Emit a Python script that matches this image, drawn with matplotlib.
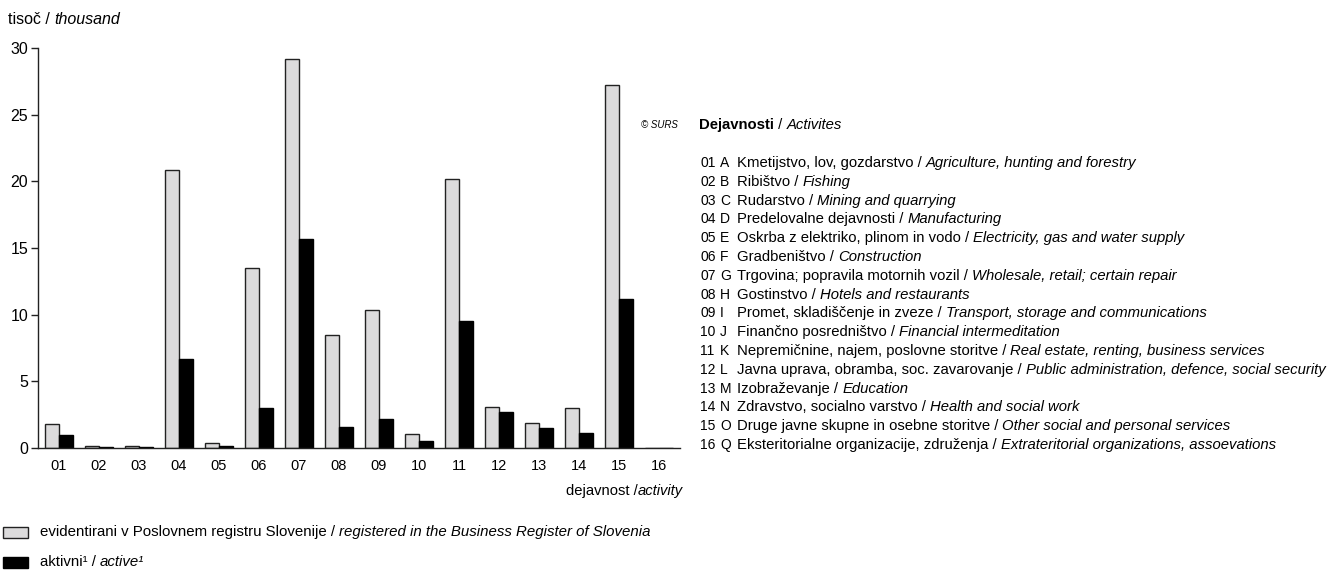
import matplotlib
matplotlib.use('Agg')
import matplotlib.pyplot as plt
from matplotlib import font_manager
from matplotlib.patches import Rectangle

codes = ['01', '02', '03', '04', '05', '06', '07', '08', '09', '10', '11', '12', '13', '14', '15', '16']
registered = [1.8, 0.15, 0.15, 20.85, 0.35, 13.5, 29.2, 8.45, 10.35, 1.05, 20.2, 3.1, 1.85, 3.0, 27.25, 0.0]
active = [0.98, 0.1, 0.05, 6.7, 0.12, 3.0, 15.65, 1.55, 2.15, 0.55, 9.5, 2.68, 1.48, 1.15, 11.2, 0.0]
letters = ['A', 'B', 'C', 'D', 'E', 'F', 'G', 'H', 'I', 'J', 'K', 'L', 'M', 'N', 'O', 'Q']
names_sl = [
    'Kmetijstvo, lov, gozdarstvo', 'Ribištvo', 'Rudarstvo', 'Predelovalne dejavnosti',
    'Oskrba z elektriko, plinom in vodo', 'Gradbeništvo', 'Trgovina; popravila motornih vozil',
    'Gostinstvo', 'Promet, skladiščenje in zveze', 'Finančno posredništvo',
    'Nepremičnine, najem, poslovne storitve', 'Javna uprava, obramba, soc. zavarovanje',
    'Izobraževanje', 'Zdravstvo, socialno varstvo', 'Druge javne skupne in osebne storitve',
    'Eksteritorialne organizacije, združenja']
names_en = [
    'Agriculture, hunting and forestry', 'Fishing', 'Mining and quarrying', 'Manufacturing',
    'Electricity, gas and water supply', 'Construction', 'Wholesale, retail; certain repair',
    'Hotels and restaurants', 'Transport, storage and communications', 'Financial intermeditation',
    'Real estate, renting, business services', 'Public administration, defence, social security',
    'Education', 'Health and social work', 'Other social and personal services',
    'Extrateritorial organizations, assoevations']
legend_labels = [('evidentirani v Poslovnem registru Slovenije / ', 'registered in the Business Register of Slovenia'),
                 ('aktivni¹ / ', 'active¹')]

avail = {f.name for f in font_manager.fontManager.ttflist}
NARROW = ['Liberation Sans Narrow', 'Liberation Sans', 'DejaVu Sans'] if 'Liberation Sans Narrow' in avail else ['Liberation Sans', 'DejaVu Sans']
REG = ['Liberation Sans', 'DejaVu Sans']

W, H = 1329, 577
fig = plt.figure(figsize=(W / 100, H / 100), dpi=100)
fig.patch.set_facecolor('white')

ax = fig.add_axes([38 / W, 1 - 448 / H, (680 - 38) / W, 400 / H])
xs = list(range(1, 17))
bw = 0.35
ax.bar([x - bw / 2 for x in xs], registered, width=bw, color='#dcdbdc', edgecolor='#222222', linewidth=1.0, zorder=2)
ax.bar([x + bw / 2 for x in xs], active, width=bw, color='black', edgecolor='black', linewidth=1.0, zorder=2)
ax.set_xlim(0.475, 16.525)
ax.set_ylim(0, 30)
for s in ['top', 'right']:
    ax.spines[s].set_visible(False)
for s in ['left', 'bottom']:
    ax.spines[s].set_linewidth(1.0)
    ax.spines[s].set_color('#222222')
ax.set_yticks([0, 5, 10, 15, 20, 25, 30])
ax.set_yticklabels(['0', '5', '10', '15', '20', '25', '30'], family=REG, fontsize=11.5)
ax.tick_params(axis='y', length=5, width=1.0, pad=2, color='#222222')
ax.set_xticks(xs)
ax.set_xticklabels(codes, family=NARROW, fontsize=10.5)
ax.tick_params(axis='x', length=0, pad=8)

def fx(px):
    return px / W

def fy(py):
    return 1 - py / H

renderer = fig.canvas.get_renderer()

def mixed(x_px, y_px, parts, size=10.7, family=NARROW):
    x = x_px
    for txt, style, weight in parts:
        t = fig.text(fx(x), fy(y_px), txt, family=family, fontsize=size, fontstyle=style,
                     fontweight=weight, va='center', ha='left')
        bb = t.get_window_extent(renderer)
        x += bb.width
    return x

def width_of(txt, size, style='normal', family=NARROW):
    t = fig.text(0, 0, txt, family=family, fontsize=size, fontstyle=style)
    w = t.get_window_extent(renderer).width
    t.remove()
    return w

mixed(8, 20, [('tisoč / ', 'normal', 'normal'), ('thousand', 'italic', 'normal')], size=11.5, family=REG)

# axis title
t_end = 683
w1 = width_of('dejavnost /', 10.6)
w2 = width_of('activity', 10.6, 'italic')
mixed(t_end - w1 - w2, 491, [('dejavnost /', 'normal', 'normal'), ('activity', 'italic', 'normal')], size=10.6)

# copyright
fig.text(fx(641), fy(125), '© SURS', family=REG, fontsize=7, fontstyle='italic', va='center', ha='left')
mixed(699, 125, [('Dejavnosti', 'normal', 'bold'), (' / ', 'normal', 'normal'), ('Activites', 'italic', 'normal')])

y0 = 163
dy = 18.8
for i in range(16):
    y = y0 + i * dy
    fig.text(fx(700), fy(y), codes[i], family=NARROW, fontsize=10, va='center', ha='left')
    fig.text(fx(720), fy(y), letters[i], family=NARROW, fontsize=10, va='center', ha='left')
    mixed(737, y, [(names_sl[i] + ' / ', 'normal', 'normal'), (names_en[i], 'italic', 'normal')])

# legend
fig.patches.append(Rectangle((fx(3), fy(538)), fx(25), 11 / H, transform=fig.transFigure,
                             facecolor='#dcdbdc', edgecolor='#222222', linewidth=1.0))
fig.patches.append(Rectangle((fx(3), fy(568)), fx(25), 11 / H, transform=fig.transFigure,
                             facecolor='black', edgecolor='black', linewidth=1.0))
mixed(40, 532, [(legend_labels[0][0], 'normal', 'normal'), (legend_labels[0][1], 'italic', 'normal')], size=10.8)
mixed(40, 562, [(legend_labels[1][0], 'normal', 'normal'), (legend_labels[1][1], 'italic', 'normal')], size=10.8)

fig.savefig('out.png', dpi=100, facecolor='white')
